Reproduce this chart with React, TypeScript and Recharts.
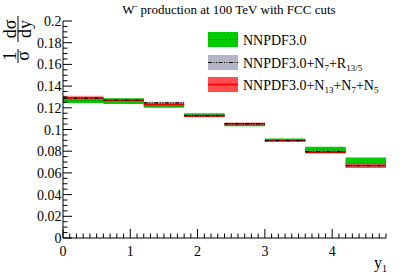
import React from "react";
import { ComposedChart, Area, Line, XAxis, YAxis } from "recharts";

// Bin edges in y_1
const edges = [0, 0.6, 1.2, 1.8, 2.4, 3.0, 3.6, 4.2, 4.8];

// NNPDF3.0
const nnpdfCentral = [0.1268, 0.1262, 0.1218, 0.1135, 0.104, 0.0902, 0.0812, 0.069];
const nnpdfLow = [0.1245, 0.1235, 0.12, 0.1122, 0.1029, 0.0888, 0.078, 0.0645];
const nnpdfHigh = [0.129, 0.1288, 0.1236, 0.1149, 0.105, 0.0916, 0.0842, 0.0742];

// NNPDF3.0+N7+R13/5
const n7rCentral = [0.129, 0.1272, 0.1245, 0.1128, 0.1051, 0.0898, 0.0796, 0.0666];
const n7rLow = [0.128, 0.1262, 0.123, 0.1118, 0.1042, 0.0888, 0.0786, 0.0652];
const n7rHigh = [0.13, 0.1282, 0.1255, 0.1138, 0.1062, 0.0908, 0.0804, 0.0682];

// NNPDF3.0+N13+N7+N5
const n13Central = [0.129, 0.127, 0.123, 0.1124, 0.1052, 0.0898, 0.079, 0.0668];
const n13Low = [0.1274, 0.1258, 0.1215, 0.1112, 0.1045, 0.0885, 0.0778, 0.0645];
const n13High = [0.131, 0.1282, 0.1247, 0.1132, 0.1064, 0.091, 0.0798, 0.0688];

const xMajorTicks = [0, 1, 2, 3, 4];
const yMajorLabels = ["0", "0.02", "0.04", "0.06", "0.08", "0.1", "0.12", "0.14", "0.16", "0.18", "0.2"];

const xTicks = Array.from({ length: 49 }, (_, i) => i / 10);
const yTicks = Array.from({ length: 41 }, (_, i) => i / 200);

const rows: any[] = [];
for (let i = 0; i < edges.length - 1; i++) {
  const v = {
    gBand: [nnpdfLow[i], nnpdfHigh[i]],
    gC: nnpdfCentral[i],
    kBand: [n7rLow[i], n7rHigh[i]],
    kC: n7rCentral[i],
    rBand: [n13Low[i], n13High[i]],
    rC: n13Central[i],
  };
  rows.push({ x: edges[i], ...v });
  rows.push({ x: edges[i + 1], ...v });
  if (i < edges.length - 2) rows.push({ x: edges[i + 1] });
}

const FONT = "'Liberation Serif', 'DejaVu Serif', serif";
const GREEN = "#00cc00";
const GREEN_LINE = "#008a00";
const GREY = "#b4b4c8";
const RED = "#ff4d4d";
const RED_LINE = "#ee0000";

const isMajorX = (v: number) => Math.abs(v - Math.round(v)) < 1e-6;
const isMajorY = (v: number) => Math.abs(v * 50 - Math.round(v * 50)) < 1e-6;

const BottomTick = (p: any) => {
  const { x, y, payload } = p;
  const v = payload.value;
  const major = isMajorX(v);
  return (
    <g>
      <line x1={x} x2={x} y1={y} y2={y - (major ? 9 : 4.5)} stroke="#000" strokeWidth={1} />
      {major && xMajorTicks.includes(Math.round(v)) ? (
        <text x={x} y={y + 18} textAnchor="middle" fontFamily={FONT} fontSize={14} fill="#000">
          {String(Math.round(v))}
        </text>
      ) : null}
    </g>
  );
};

const TopTick = (p: any) => {
  const { x, y, payload } = p;
  const major = isMajorX(payload.value);
  return <line x1={x} x2={x} y1={y} y2={y + (major ? 9 : 4.5)} stroke="#000" strokeWidth={1} />;
};

const LeftTick = (p: any) => {
  const { x, y, payload } = p;
  const v = payload.value;
  const major = isMajorY(v);
  const idx = Math.round(v * 50);
  return (
    <g>
      <line x1={x} x2={x + (major ? 9 : 4.5)} y1={y} y2={y} stroke="#000" strokeWidth={1} />
      {major ? (
        <text x={x - 1.5} y={y + 5} textAnchor="end" fontFamily={FONT} fontSize={14} fill="#000">
          {yMajorLabels[idx]}
        </text>
      ) : null}
    </g>
  );
};

const RightTick = (p: any) => {
  const { x, y, payload } = p;
  const major = isMajorY(payload.value);
  return <line x1={x} x2={x - (major ? 9 : 4.5)} y1={y} y2={y} stroke="#000" strokeWidth={1} />;
};

const legendItems = [
  { label: ["NNPDF3.0"], fill: GREEN, line: GREEN_LINE, dash: "2 1.5", w: 1 },
  { label: ["NNPDF3.0+N", "7", "+R", "13/5"], fill: GREY, line: "#000", dash: "4 1.5 1 1.5 1 1.5", w: 1 },
  { label: ["NNPDF3.0+N", "13", "+N", "7", "+N", "5"], fill: RED, line: RED_LINE, dash: undefined, w: 1.5 },
];
const legendTop = [32, 55, 77];

export default function App() {
  return (
    <div style={{ position: "relative", width: 407, height: 277, background: "#fff" }}>
      <style>{`body{margin:0;background:#fff}`}</style>
      <ComposedChart
        width={407}
        height={277}
        data={rows}
        margin={{ top: 21, right: 21, bottom: 9, left: 0 }}
      >
        <XAxis
          xAxisId="b"
          dataKey="x"
          type="number"
          domain={[0, 4.8]}
          ticks={xTicks}
          interval={0}
          orientation="bottom"
          height={30}
          tickSize={0}
          tickMargin={0}
          tickLine={false}
          axisLine={{ stroke: "#000", strokeWidth: 1 }}
          tick={<BottomTick />}
          allowDataOverflow
        />
        <XAxis
          xAxisId="t"
          dataKey="x"
          type="number"
          domain={[0, 4.8]}
          ticks={xTicks}
          interval={0}
          orientation="top"
          height={0}
          tickSize={0}
          tickMargin={0}
          tickLine={false}
          axisLine={{ stroke: "#000", strokeWidth: 1 }}
          tick={<TopTick />}
          allowDataOverflow
        />
        <YAxis
          yAxisId="l"
          type="number"
          domain={[0, 0.2]}
          ticks={yTicks}
          interval={0}
          orientation="left"
          width={63}
          tickSize={0}
          tickMargin={0}
          tickLine={false}
          axisLine={{ stroke: "#000", strokeWidth: 1 }}
          tick={<LeftTick />}
          allowDataOverflow
        />
        <YAxis
          yAxisId="r"
          type="number"
          domain={[0, 0.2]}
          ticks={yTicks}
          interval={0}
          orientation="right"
          width={0}
          tickSize={0}
          tickMargin={0}
          tickLine={false}
          axisLine={{ stroke: "#000", strokeWidth: 1 }}
          tick={<RightTick />}
          allowDataOverflow
        />
        <Area xAxisId="b" yAxisId="l" type="linear" dataKey="gBand" fill={GREEN} fillOpacity={1} stroke="none" isAnimationActive={false} activeDot={false} />
        <Area xAxisId="b" yAxisId="l" type="linear" dataKey="kBand" fill={GREY} fillOpacity={0.85} stroke="none" isAnimationActive={false} activeDot={false} />
        <Area xAxisId="b" yAxisId="l" type="linear" dataKey="rBand" fill={RED} fillOpacity={0.6} stroke="none" isAnimationActive={false} activeDot={false} />
        <Line xAxisId="b" yAxisId="l" type="linear" dataKey="gC" stroke={GREEN_LINE} strokeWidth={1} strokeDasharray="2 1.5" dot={false} activeDot={false} isAnimationActive={false} />
        <Line xAxisId="b" yAxisId="l" type="linear" dataKey="rC" stroke={RED_LINE} strokeWidth={1.5} dot={false} activeDot={false} isAnimationActive={false} />
        <Line xAxisId="b" yAxisId="l" type="linear" dataKey="kC" stroke="#000" strokeWidth={1.2} strokeDasharray="4 1.5 1 1.5 1 1.5" dot={false} activeDot={false} isAnimationActive={false} />
      </ComposedChart>
      <svg width={407} height={277} style={{ position: "absolute", left: 0, top: 0, pointerEvents: "none" }}>
        <text x={229} y={14} textAnchor="middle" fontFamily={FONT} fontSize={13} fill="#000">
          W<tspan fontSize={8} dy={-5}>-</tspan>
          <tspan dy={5}> production at 100 TeV with FCC cuts</tspan>
        </text>
        <g transform="translate(18,63) rotate(-90)" fontFamily={FONT} fontSize={18} fill="#000">
          <text x={7} y={-2} textAnchor="middle">1</text>
          <line x1={0} x2={14} y1={0} y2={0} stroke="#000" strokeWidth={1} />
          <text x={7} y={11} textAnchor="middle">σ</text>
          <text x={34} y={-2} textAnchor="middle">dσ</text>
          <line x1={21} x2={47} y1={0} y2={0} stroke="#000" strokeWidth={1} />
          <text x={34} y={13} textAnchor="middle">dy</text>
        </g>
        <text x={387} y={268} textAnchor="end" fontFamily={FONT} fontSize={16} fill="#000">
          y<tspan fontSize={10} dy={4}>1</tspan>
        </text>
        {legendItems.map((it, i) => {
          const top = legendTop[i];
          return (
            <g key={i}>
              <rect x={208} y={top} width={30} height={15} fill={it.fill} />
              <line x1={208} x2={238} y1={top + 7.5} y2={top + 7.5} stroke={it.line} strokeWidth={it.w} strokeDasharray={it.dash} />
              <text x={243} y={top + 13} fontFamily={FONT} fontSize={14} fill="#000">
                {it.label.map((s, j) =>
                  j % 2 === 0 ? (
                    <tspan key={j} fontSize={14} dy={j === 0 ? 0 : -3}>{s}</tspan>
                  ) : (
                    <tspan key={j} fontSize={9} dy={3}>{s}</tspan>
                  )
                )}
              </text>
            </g>
          );
        })}
      </svg>
    </div>
  );
}
